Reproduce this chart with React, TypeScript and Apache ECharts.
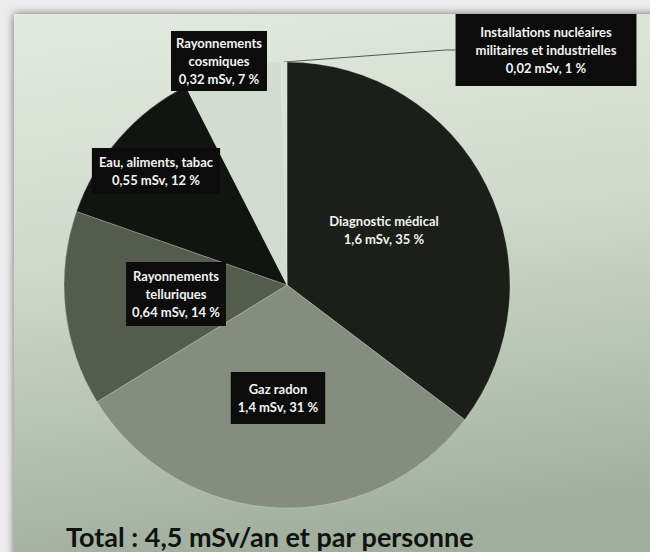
import React, { useEffect, useRef } from "react";
import * as echarts from "echarts";

const SOURCES = [
  "Diagnostic médical",
  "Gaz radon",
  "Rayonnements\ntelluriques",
  "Eau, aliments, tabac",
  "Rayonnements\ncosmiques",
  "Installations nucléaires\nmilitaires et industrielles",
];
const DOSES = [1.6, 1.4, 0.64, 0.55, 0.32, 0.02];
const DOSE_LABELS = ["1,6", "1,4", "0,64", "0,55", "0,32", "0,02"];
const PERCENTS = [35, 31, 14, 12, 7, 1];
const TOTAL_TEXT = "Total : 4,5 mSv/an et par personne";

const COLORS = ["#1b1e19", "#858e7e", "#545c4c", "#121411", "#d3dcd0", "#dbe3d8"];
const LABEL_POS: [number, number][] = [
  [384, 230],
  [278, 398],
  [176, 294],
  [156, 171],
  [219, 61],
  [546, 50],
];
const LABEL_PAD: [number, number][] = [
  [5, 7],
  [8, 7],
  [5, 6],
  [5, 7],
  [3, 5],
  [9, 20],
];

export default function App() {
  const ref = useRef<HTMLDivElement>(null);
  useEffect(() => {
    if (!ref.current) return;
    const chart = echarts.init(ref.current, null, { renderer: "svg" });
    const data = SOURCES.map((name, i) => ({
      name,
      value: DOSES[i],
      itemStyle: { color: COLORS[i] },
      label: {
        position: i === 5 ? "outside" : "inside",
        backgroundColor: i === 0 ? "transparent" : "#0c0c0c",
        padding: LABEL_PAD[i],
      },
      labelLine: { show: i === 5 },
    }));
    chart.setOption({
      animation: false,
      backgroundColor: "#ececec",
      graphic: [
        {
          type: "rect",
          z: -10,
          shape: { x: 14, y: 14, width: 650, height: 560 },
          style: {
            fill: new echarts.graphic.LinearGradient(0, 0, 0.15, 1, [
              { offset: 0, color: "#e3eae0" },
              { offset: 0.45, color: "#d0d9cc" },
              { offset: 1, color: "#a0ae9c" },
            ]),
            shadowBlur: 8,
            shadowColor: "rgba(0,0,0,0.55)",
          },
        },
      ],
      title: {
        text: TOTAL_TEXT,
        left: 61,
        top: 518,
        textStyle: {
          fontFamily: "Lato",
          fontWeight: "bold",
          fontSize: 27,
          color: "#111",
        },
      },
      series: [
        {
          type: "pie",
          center: [287, 285],
          radius: 223,
          startAngle: 90,
          clockwise: true,
          data,
          itemStyle: { borderColor: "rgba(220,228,216,0.5)", borderWidth: 0.6 },
          label: {
            show: true,
            formatter: (p: any) =>
              `${p.name}\n${DOSE_LABELS[p.dataIndex]} mSv, ${PERCENTS[p.dataIndex]} %`,
            color: "#f2f2f2",
            fontFamily: "Lato",
            fontWeight: "bold",
            fontSize: 13,
            lineHeight: 18,
            align: "center",
          },
          labelLine: {
            lineStyle: { color: "#555", width: 1 },
            length: 10,
            length2: 10,
          },
          labelLayout: (params: any) => {
            const p = LABEL_POS[params.dataIndex];
            return { x: p[0], y: p[1], align: "center", verticalAlign: "middle" };
          },
        },
      ],
    });
    return () => chart.dispose();
  }, []);
  return (
    <div
      ref={ref}
      style={{ position: "fixed", left: 0, top: 0, width: 650, height: 552 }}
    />
  );
}
